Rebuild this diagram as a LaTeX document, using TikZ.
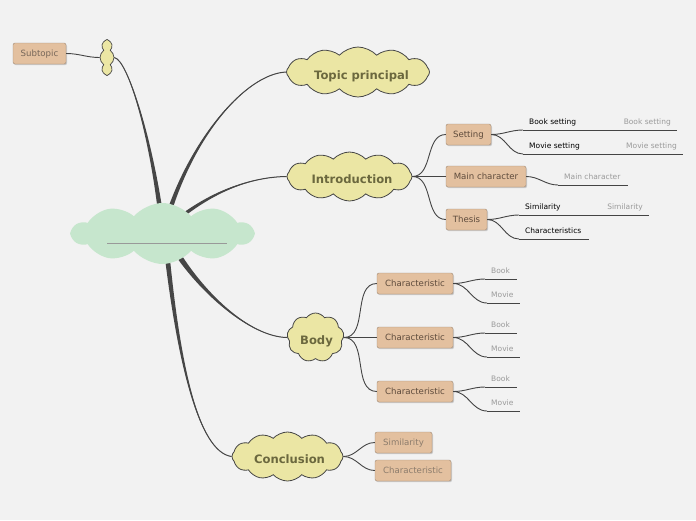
\documentclass[tikz,border=0pt]{standalone}
\usepackage{fontspec}
\setmainfont{DejaVu Sans}
\usetikzlibrary{shapes.symbols,shadows,calc}
\definecolor{bgcol}{HTML}{F2F2F2}
\definecolor{branchcol}{HTML}{464646}
\definecolor{cloudfill}{HTML}{EBE6A4}
\definecolor{cloudtext}{HTML}{6B683E}
\definecolor{centerfill}{HTML}{C6E6CD}
\definecolor{boxfill}{HTML}{E3C09F}
\definecolor{boxdraw}{HTML}{A08A76}
\definecolor{boxtext}{HTML}{5E4B3C}
\definecolor{boxtextlight}{HTML}{8C7C6C}
\definecolor{leafgray}{HTML}{9A9A9A}
\definecolor{linkcol}{HTML}{444444}
\pgfdeclarelayer{back}
\pgfdeclarelayer{mid}
\pgfsetlayers{back,mid,main}
\newcommand\taperbranch[5]{%
  \fill[branchcol] ($#1+#5$) .. controls ($#2+0.5*#5$) and #3 .. #4 .. controls #3 and ($#2-0.5*#5$) .. ($#1-#5$) -- cycle;
  \draw[branchcol, line width=1pt] #1 .. controls #2 and #3 .. #4;}
\tikzset{
  topiccloud/.style={cloud, cloud puffs=12, cloud puff arc=95, cloud ignores aspect, draw=branchcol, line width=0.8pt, fill=cloudfill, inner sep=0pt},
  cloudlabel/.style={inner sep=0pt, font=\bfseries\fontsize{11.6}{13}\selectfont, text=cloudtext, text height=8.5pt, text depth=0pt},
  mmbox/.style={draw=boxdraw, fill=boxfill, rounded corners=2pt, minimum height=21pt, inner sep=0pt, font=\fontsize{8.6}{10}\selectfont, text=boxtext, text height=6.3pt, text depth=0pt, drop shadow={shadow xshift=1pt, shadow yshift=-1.2pt, opacity=0.35}},
  lightbox/.style={mmbox, text=boxtextlight},
  leaftext/.style={font=\fontsize{7.5}{9}\selectfont, text=black, inner sep=0pt, text height=5.5pt, text depth=0pt},
  leafgraytext/.style={leaftext, text=leafgray},
  link/.style={draw=linkcol, line width=0.9pt},
  leafline/.style={draw=linkcol, line width=0.9pt},
}
\begin{document}
\begin{tikzpicture}[x=1pt,y=-1pt]
\begin{pgfonlayer}{back}
\fill[bgcol] (0,0) rectangle (696,520);
\end{pgfonlayer}
\useasboundingbox (0,0) rectangle (696,520);

% central topic
\node[cloud, cloud puffs=10, cloud puff arc=100, cloud ignores aspect, fill=centerfill, minimum width=181pt, minimum height=61pt, inner sep=0pt] (center) at (162.5,233.5) {};
\coordinate (ulA) at (107,243);
\coordinate (ulB) at (227,243);
\draw[draw=gray!80, line width=0.8pt] (ulA) -- (ulB);

% small cloud and subtopic
\node[cloud, cloud puffs=8, cloud puff arc=110, cloud ignores aspect, draw=branchcol, line width=0.7pt, fill=cloudfill, minimum width=14pt, minimum height=36pt, inner sep=0pt] (small) at (107,57.5) {};
\node[mmbox, minimum width=53pt, text=boxtext!85] (subtopic) at (39.5,53.5) {Subtopic};

% main topics
\node[topiccloud, minimum width=143pt, minimum height=50pt] (topic) at (358,72) {};
\node[cloudlabel] (topict) at (361.5,75.3) {Topic principal};
\node[topiccloud, minimum width=125pt, minimum height=49pt] (intro) at (349.5,176.5) {};
\node[cloudlabel] (introt) at (352,179.5) {Introduction};
\node[topiccloud, cloud puffs=9, cloud puff arc=110, minimum width=57pt, minimum height=49pt] (body) at (315.5,337.5) {};
\node[cloudlabel] (bodyt) at (316.5,340.5) {Body};
\node[topiccloud, minimum width=111pt, minimum height=49pt] (concl) at (287.5,456.5) {};
\node[cloudlabel] (conclt) at (289.5,459.3) {Conclusion};

% main branches
\begin{pgfonlayer}{mid}
\coordinate (s1) at (162,225);
\coordinate (s2) at (166,222);
\coordinate (s3) at (172,224);
\coordinate (s4) at (172,245);
\coordinate (s5) at (166,245);
\taperbranch{(s1)}{(152,140)}{(128,60)}{(small.east)}{(2.6,0)}
\taperbranch{(s2)}{(190,140)}{(245,74)}{(topic.west)}{(2.6,0)}
\taperbranch{(s3)}{(210,192)}{(250,177)}{(intro.west)}{(0,2.6)}
\taperbranch{(s4)}{(200,292)}{(250,337)}{(body.west)}{(2.2,-2.2)}
\taperbranch{(s5)}{(178,360)}{(198,452)}{(concl.west)}{(2.6,0)}
\end{pgfonlayer}
\draw[link] (small.west) to[out=180,in=0] (subtopic.east);

% introduction children
\node[mmbox, minimum width=45pt] (setting) at (468.5,134.5) {Setting};
\node[mmbox, minimum width=80pt] (mainchar) at (486,176.5) {Main character};
\node[mmbox, minimum width=41pt] (thesis) at (466.5,219.5) {Thesis};
\draw[link] (intro.east) to[out=0,in=180] (setting.west);
\draw[link] (intro.east) to[out=0,in=180] (mainchar.west);
\draw[link] (intro.east) to[out=0,in=180] (thesis.west);

% setting leaves
\coordinate (bsA) at (523,130); \coordinate (bsB) at (677,130);
\coordinate (msA) at (523,154); \coordinate (msB) at (683,154);
\draw[link] (setting.east) to[out=0,in=180] (bsA);
\draw[link] (setting.east) to[out=0,in=180] (msA);
\draw[leafline] (bsA) -- (bsB);
\draw[leafline] (msA) -- (msB);
\node[leaftext, anchor=west] (bst) at (529,121.5) {Book setting};
\node[leafgraytext, anchor=east] (bsg) at (671,121.5) {Book setting};
\node[leaftext, anchor=west] (mst) at (529,145.5) {Movie setting};
\node[leafgraytext, anchor=east] (msg) at (677,145.5) {Movie setting};

% main character leaf
\coordinate (mcA) at (558,185); \coordinate (mcB) at (628,185);
\draw[link] (mainchar.east) to[out=0,in=180] (mcA);
\draw[leafline] (mcA) -- (mcB);
\node[leafgraytext, anchor=west] (mcg) at (564,176.5) {Main character};

% thesis leaves
\coordinate (tsA) at (519,215); \coordinate (tsB) at (649,215);
\coordinate (tcA) at (519,239); \coordinate (tcB) at (589,239);
\draw[link] (thesis.east) to[out=0,in=180] (tsA);
\draw[link] (thesis.east) to[out=0,in=180] (tcA);
\draw[leafline] (tsA) -- (tsB);
\draw[leafline] (tcA) -- (tcB);
\node[leaftext, anchor=west] (tst) at (525,206.5) {Similarity};
\node[leafgraytext, anchor=east] (tsg) at (643,206.5) {Similarity};
\node[leaftext, anchor=west] (tct) at (525,230.5) {Characteristics};

% body children
\foreach \i/\y in {1/283.5, 2/337.5, 3/391.5} {
  \node[mmbox, minimum width=76pt] (ch\i) at (415,\y) {Characteristic};
  \draw[link] (body.east) to[out=0,in=180] (ch\i.west);
  \coordinate (bkA\i) at (485,\y-4.5);
  \coordinate (bkB\i) at (517,\y-4.5);
  \coordinate (mvA\i) at (487,\y+19.5);
  \coordinate (mvB\i) at (520,\y+19.5);
  \draw[link] (ch\i.east) to[out=0,in=180] (bkA\i);
  \draw[link] (ch\i.east) to[out=0,in=180] (mvA\i);
  \draw[leafline] (bkA\i) -- (bkB\i);
  \draw[leafline] (mvA\i) -- (mvB\i);
  \node[leafgraytext, anchor=west] (bk\i) at (491,\y-13) {Book};
  \node[leafgraytext, anchor=west] (mv\i) at (491,\y+11) {Movie};
}

% conclusion children
\node[lightbox, minimum width=57pt] (csim) at (403.5,442.5) {Similarity};
\node[lightbox, minimum width=76pt] (cchar) at (413,470.5) {Characteristic};
\draw[link] (concl.east) to[out=0,in=180] (csim.west);
\draw[link] (concl.east) to[out=0,in=180] (cchar.west);
\end{tikzpicture}
\end{document}
